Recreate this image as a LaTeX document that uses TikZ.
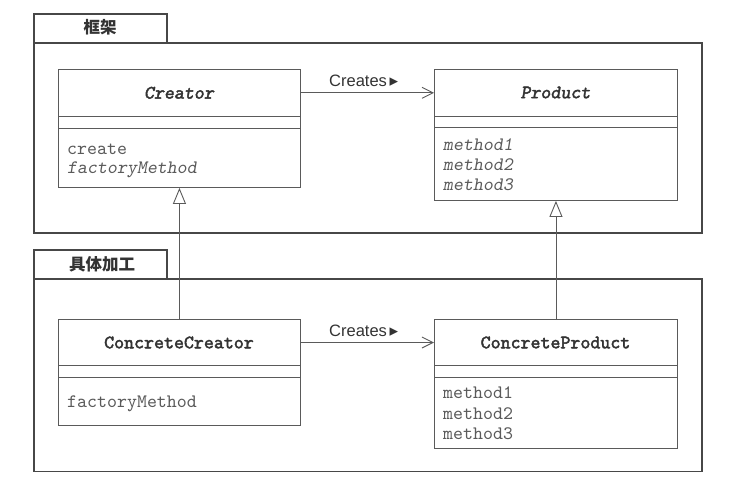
\documentclass[tikz,border=0pt]{standalone}
\usepackage{fontspec}
\setmainfont{Liberation Sans}
\setmonofont{lmmono10-regular.otf}[ItalicFont=lmmonoslant10-regular.otf, BoldFont=lmmono10-regular.otf, BoldFeatures={FakeBold=2.2}, BoldItalicFont=lmmonoslant10-regular.otf, BoldItalicFeatures={FakeBold=2.2}]
\newfontfamily\cjk{Noto Sans CJK SC}
\newfontfamily\dejavu{DejaVu Sans}
\usetikzlibrary{arrows.meta}
\definecolor{pkgc}{HTML}{474747}
\definecolor{linec}{HTML}{5A5A5A}
\definecolor{namec}{HTML}{333333}
\definecolor{methc}{HTML}{5A5A5A}
\begin{document}
\begin{tikzpicture}[x=1pt,y=-1pt,
  pkg/.style={draw=pkgc, line width=1.7pt, anchor=north west, inner sep=0pt, rectangle},
  cls/.style={draw=linec, line width=0.9pt, anchor=north west, inner sep=0pt, rectangle, fill=white},
  sep/.style={draw=linec, line width=0.9pt},
  clsname/.style={font=\fontsize{19}{20}\selectfont\ttfamily\bfseries, text=namec, inner sep=0pt},
  meth/.style={font=\fontsize{19}{20}\selectfont\ttfamily, text=methc, anchor=base west, inner sep=0pt},
  tablbl/.style={font=\fontsize{16.5}{20}\selectfont\cjk\bfseries, text=namec, inner sep=0pt},
  creates/.style={font=\fontsize{16.5}{20}\selectfont, text=namec, inner sep=0pt, anchor=base west},
  assoc/.style={draw=linec, line width=0.9pt, -{Straight Barb[length=11pt,width=11pt,line width=0.9pt]}},
  inh/.style={draw=linec, line width=0.9pt, -{Triangle[open,length=16pt,width=13pt,line width=0.9pt]}}
]
\useasboundingbox (0,0) rectangle (732,490);

% packages
\node[pkg, minimum width=133pt, minimum height=29pt] (tab1) at (33,13) {};
\node[pkg, minimum width=668pt, minimum height=190pt] (pkg1) at (33,42) {};
\node[tablbl] (tab1lbl) at (100,27) {框架};

\node[pkg, minimum width=133pt, minimum height=29pt] (tab2) at (33,249) {};
\node[pkg, minimum width=668pt, minimum height=192.5pt] (pkg2) at (33,278) {};
\node[tablbl] (tab2lbl) at (102,264) {具体加工};

% classes
\node[cls, minimum width=242pt, minimum height=118pt] (creator) at (58,69) {};
\draw[sep] (58,116.7) -- (300,116.7);
\draw[sep] (58,128) -- (300,128);
\node[clsname] (creatorname) at (179,92.8) {\itshape Creator};
\node[meth] (cm1) at (67,154) {create};
\node[meth] (cm2) at (67,173) {\itshape factoryMethod};

\node[cls, minimum width=243pt, minimum height=131.5pt] (product) at (434,68.5) {};
\draw[sep] (434,116) -- (677,116);
\draw[sep] (434,127.7) -- (677,127.7);
\node[clsname] (productname) at (555.5,92.5) {\itshape Product};
\node[meth] (pm1) at (443,150) {\itshape method1};
\node[meth] (pm2) at (443,170) {\itshape method2};
\node[meth] (pm3) at (443,190) {\itshape method3};

\node[cls, minimum width=242pt, minimum height=106.3pt] (ccreator) at (58,318.7) {};
\draw[sep] (58,365.7) -- (300,365.7);
\draw[sep] (58,377) -- (300,377);
\node[clsname] (ccreatorname) at (179,342.5) {ConcreteCreator};
\node[meth] (ccm1) at (67,407) {factoryMethod};

\node[cls, minimum width=243pt, minimum height=129.5pt] (cproduct) at (434,318.5) {};
\draw[sep] (434,365.5) -- (677,365.5);
\draw[sep] (434,377.3) -- (677,377.3);
\node[clsname] (cproductname) at (555.5,342.5) {ConcreteProduct};
\node[meth] (cpm1) at (443,398.5) {method1};
\node[meth] (cpm2) at (443,419) {method2};
\node[meth] (cpm3) at (443,439.5) {method3};

% associations
\draw[assoc] (creatorname.center -| creator.east) -- (creatorname.center -| product.west);
\node[creates] (lbl1) at (329,86.5) {Creates\,{\dejavu\fontsize{17}{17}\selectfont ▸}};
\draw[assoc] (ccreatorname.center -| ccreator.east) -- (ccreatorname.center -| cproduct.west);
\node[creates] (lbl2) at (329,336) {Creates\,{\dejavu\fontsize{17}{17}\selectfont ▸}};

% inheritance
\draw[inh] (ccreator.north) -- (creator.south);
\draw[inh] (cproduct.north) -- (product.south);
\end{tikzpicture}
\end{document}
